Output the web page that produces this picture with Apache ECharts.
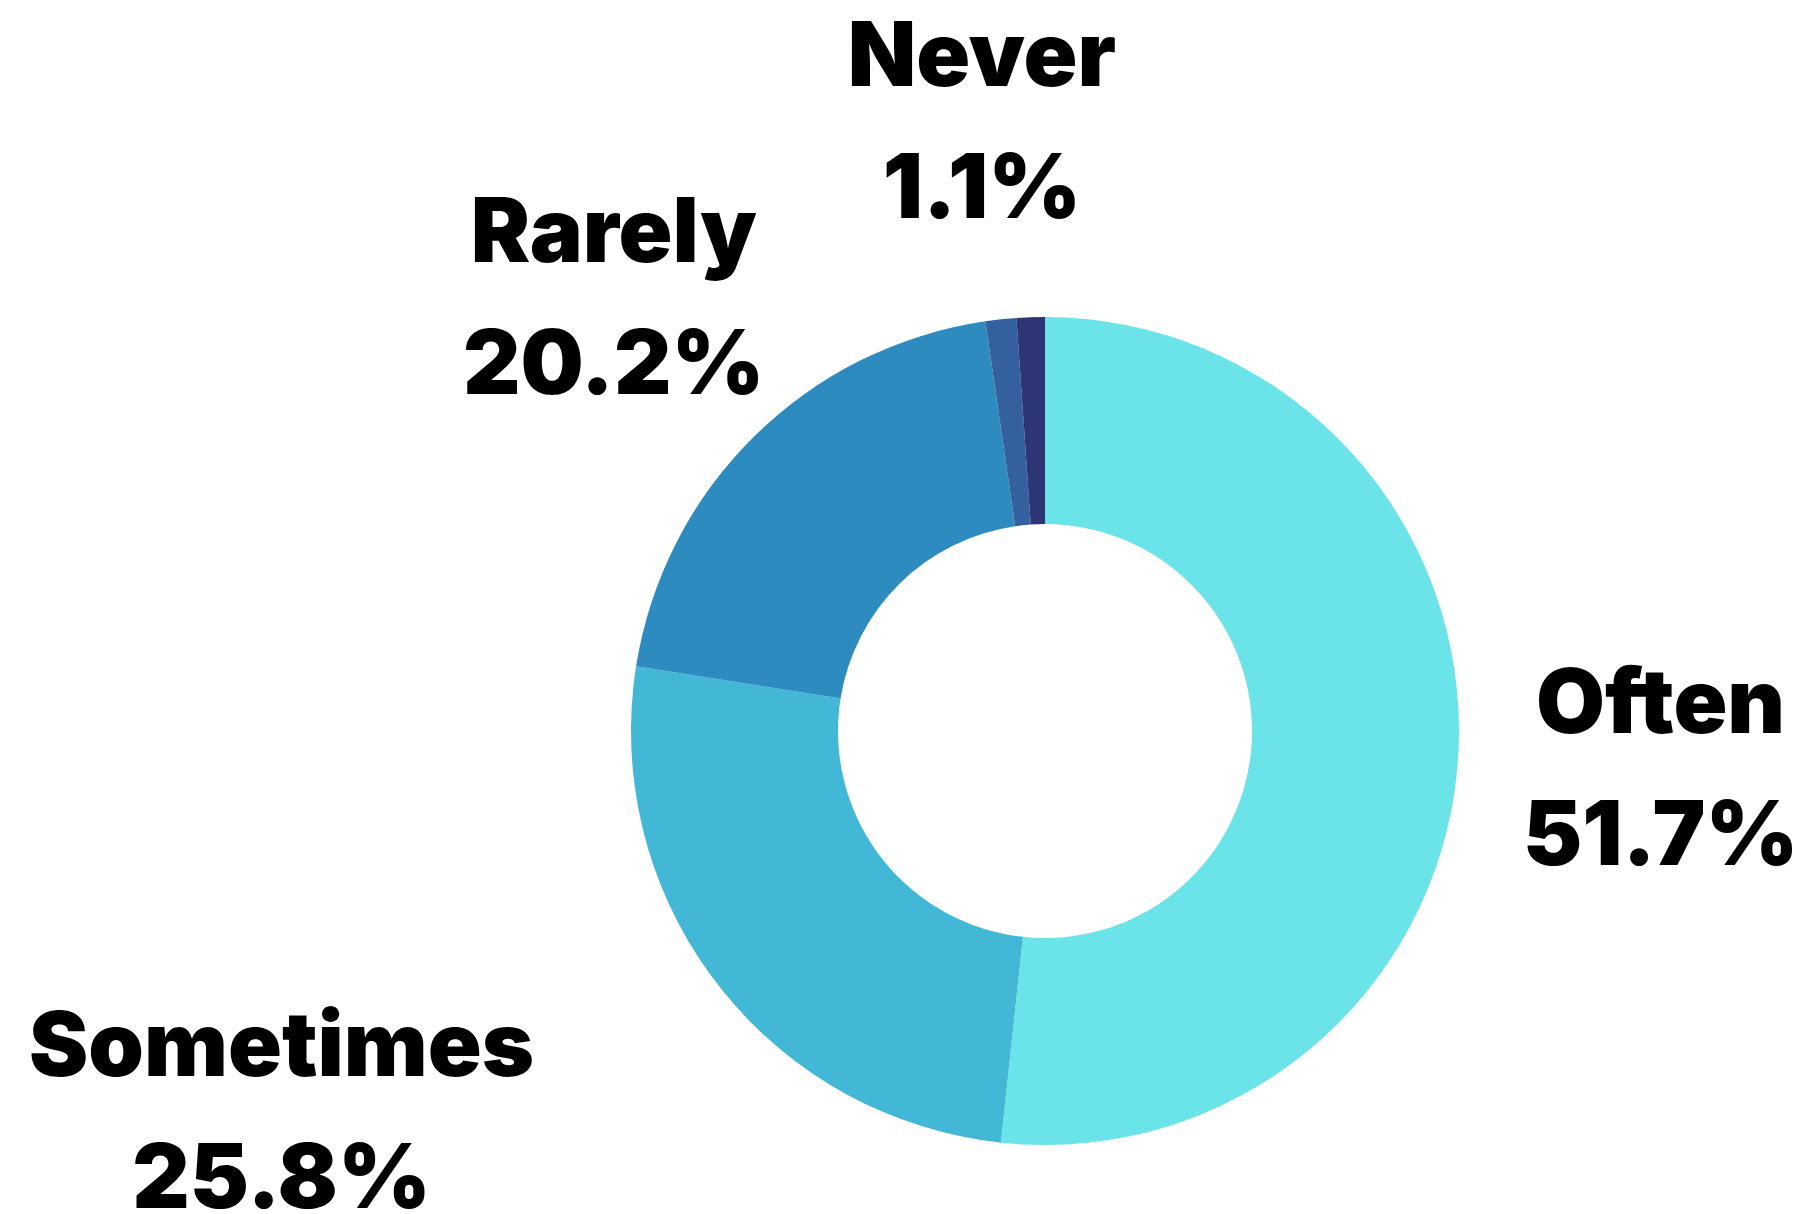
<!DOCTYPE html>
<html>
<head>
<meta charset="utf-8">
<script src="https://cdn.jsdelivr.net/npm/echarts@6/dist/echarts.min.js"></script>
<style>
html,body{margin:0;padding:0;background:#ffffff;}
#chart{width:1805px;height:1214px;}
</style>
</head>
<body>
<div id="chart"></div>
<script>
// Data
var categories = ['Often', 'Sometimes', 'Rarely', 'Other', 'Never'];
var values = [51.7, 25.8, 20.2, 1.2, 1.1];
var showLabel = [true, true, true, false, true];
var colors = ['#6ae4e8', '#42b8d6', '#2e8bbf', '#3560a0', '#2d3575'];

// Label anchor positions (fractions of chart size), layout only
var labelPos = {
  'Often':     [0.920, 0.636],
  'Sometimes': [0.156, 0.919],
  'Rarely':    [0.340, 0.248],
  'Never':     [0.544, 0.103]
};

var chart = echarts.init(document.getElementById('chart'), null, {renderer: 'canvas'});

var seriesData = categories.map(function (name, i) {
  return {
    name: name,
    value: values[i],
    itemStyle: {color: colors[i]},
    label: {show: showLabel[i]}
  };
});

chart.setOption({
  backgroundColor: '#ffffff',
  animation: false,
  series: [{
    type: 'pie',
    center: [1045, 731],
    radius: [207, 414],
    startAngle: 90,
    clockwise: true,
    avoidLabelOverlap: false,
    data: seriesData,
    itemStyle: {borderWidth: 0},
    label: {
      position: 'outside',
      formatter: function (p) { return p.name + '\n' + p.value.toFixed(1) + '%'; },
      fontFamily: 'Inter',
      fontWeight: 900,
      fontSize: 89,
      lineHeight: 132,
      color: '#000000',
      align: 'center'
    },
    labelLine: {show: false},
    labelLayout: function (params) {
      var name = categories[params.dataIndex];
      var pos = labelPos[name];
      if (!pos) { return {}; }
      var w = chart.getWidth(), h = chart.getHeight();
      return {
        x: pos[0] * w,
        y: pos[1] * h,
        align: 'center',
        verticalAlign: 'middle'
      };
    }
  }]
});
</script>
</body>
</html>
